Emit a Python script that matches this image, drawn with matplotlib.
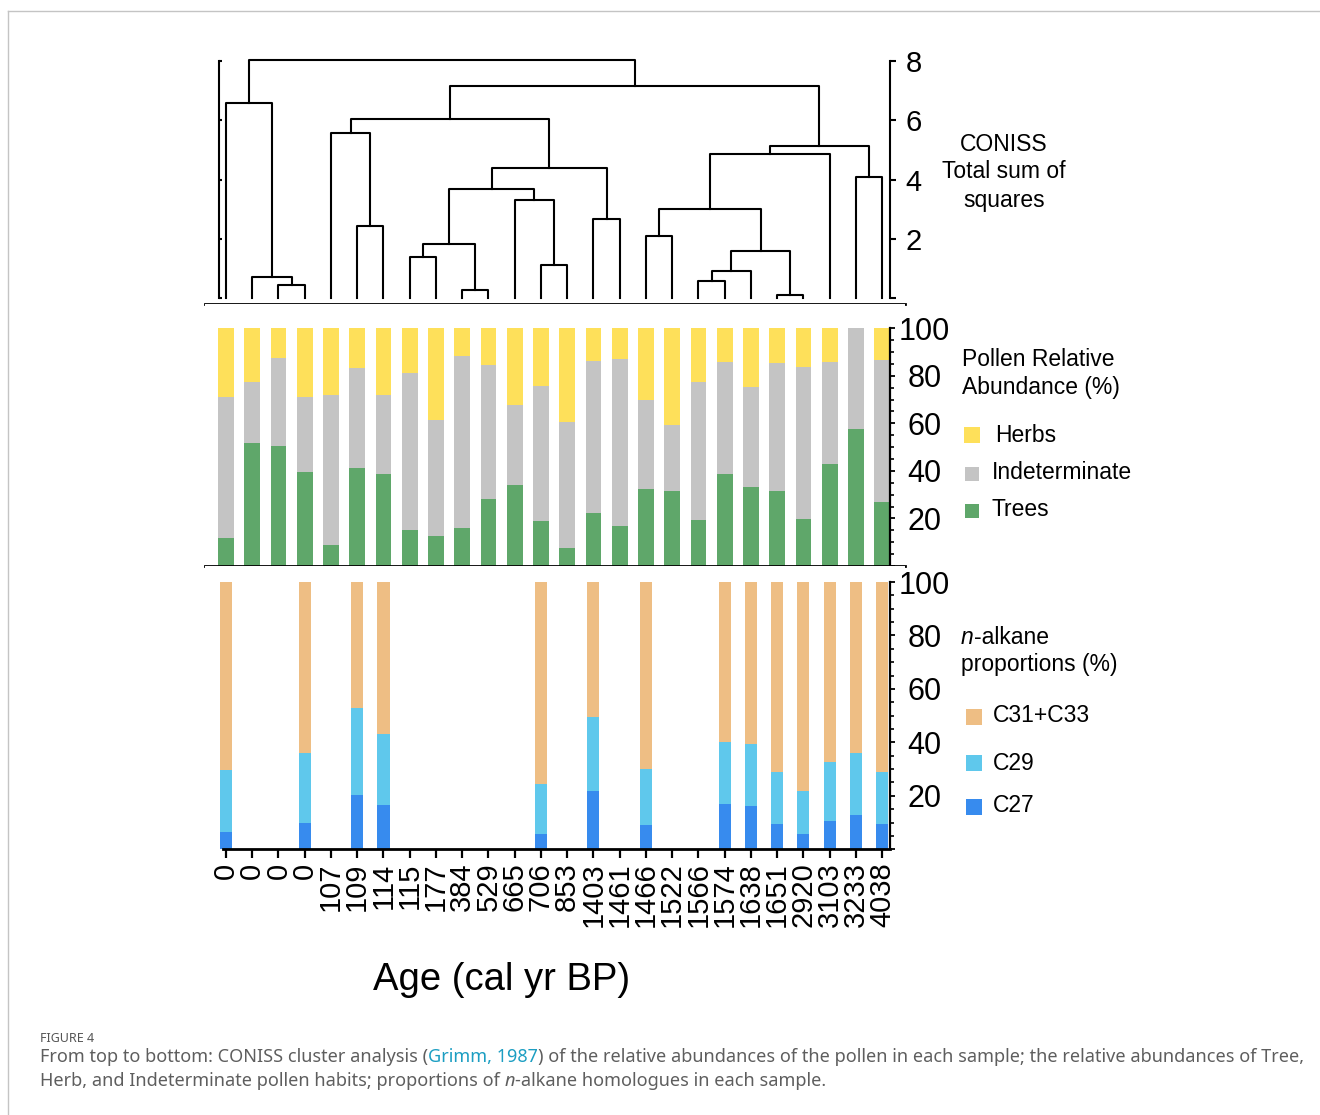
import numpy as np
import matplotlib
matplotlib.use("Agg")
import matplotlib.pyplot as plt
from matplotlib.patches import Rectangle
from matplotlib.lines import Line2D
from matplotlib.ticker import FixedLocator

plt.rcParams['font.family'] = ['Liberation Sans', 'DejaVu Sans']

# --- data ---
ages = ['0', '0', '0', '0', '107', '109', '114', '115', '177', '384', '529',
        '665', '706', '853', '1403', '1461', '1466', '1522', '1566', '1574',
        '1638', '1651', '2920', '3103', '3233', '4038']

# pollen habit (%)
trees = [11.6, 51.8, 50.3, 39.6, 8.7, 41.3, 38.9, 15.1, 12.6, 15.8, 28.2, 33.9, 19.0,
         7.6, 22.4, 16.8, 32.2, 31.5, 19.3, 38.8, 33.2, 31.5, 19.9, 42.9, 57.7, 26.9]
indeterminate = [59.4, 25.8, 37.2, 31.4, 63.1, 42.0, 32.9, 66.0, 48.7, 72.7, 56.3, 33.9, 56.9,
                 53.0, 63.9, 70.3, 37.8, 27.7, 58.1, 46.8, 42.0, 53.8, 63.8, 43.1, 42.3, 59.9]
herbs = [29.0, 22.4, 12.5, 29.0, 28.2, 16.7, 28.2, 18.9, 38.7, 11.5, 15.5, 32.2, 24.1,
         39.4, 13.7, 12.9, 30.0, 40.8, 22.6, 14.4, 24.8, 14.7, 16.3, 14.0, 0.0, 13.2]

# n-alkane proportions (%), nan = not measured
nan = np.nan
c27 = [6.6, nan, nan, 9.8, nan, 20.3, 16.6, nan, nan, nan, nan, nan, 5.8,
       nan, 21.8, nan, 9.1, nan, nan, 16.9, 16.2, 9.3, 5.8, 10.6, 12.8, 9.5]
c29 = [23.0, nan, nan, 26.4, nan, 32.4, 26.6, nan, nan, nan, nan, nan, 18.6,
       nan, 27.8, nan, 20.8, nan, nan, 23.2, 23.1, 19.7, 16.2, 22.1, 23.4, 19.6]
c31_33 = [70.4, nan, nan, 63.8, nan, 47.3, 56.8, nan, nan, nan, nan, nan, 75.6,
          nan, 50.4, nan, 70.1, nan, nan, 59.9, 60.7, 71.0, 78.0, 67.3, 63.8, 70.9]

# CONISS merges: (child a, child b, total sum of squares); ids >= 26 are earlier merges
merges = [
    (21, 22, 0.11), (9, 10, 0.27), (2, 3, 0.45), (18, 19, 0.59), (1, 28, 0.72),
    (29, 20, 0.93), (12, 13, 1.11), (7, 8, 1.38), (31, 26, 1.58), (33, 27, 1.83),
    (16, 17, 2.09), (5, 6, 2.42), (14, 15, 2.68), (36, 34, 3.01), (11, 32, 3.32),
    (35, 40, 3.67), (24, 25, 4.10), (41, 38, 4.40), (39, 23, 4.86), (44, 42, 5.13),
    (4, 37, 5.58), (46, 43, 6.04), (0, 30, 6.58), (47, 45, 7.16), (48, 49, 8.03),
]

# colours
col_herbs, col_indet, col_trees = '#FEE05A', '#C4C4C4', '#5FA76A'
col_c31, col_c29, col_c27 = '#EEBE84', '#5FC8EC', '#378BEE'

W, H = 1320, 1115
fig = plt.figure(figsize=(W / 100, H / 100), dpi=100)


def fig_rect(x0, y0, x1, y1):
    return [x0 / W, 1 - y1 / H, (x1 - x0) / W, (y1 - y0) / H]


X0, X1 = -0.8, 25.87
SPINE_X = 25.3
LW = 2.0
x = np.arange(len(ages))

# ---------- dendrogram ----------
ax_d = fig.add_axes(fig_rect(205, 45, 905, 304))
ax_d.set_xlim(X0, X1)
ax_d.set_ylim(-0.192, 8.53)

pos = {i: float(i) for i in range(len(ages))}
hgt = {i: 0.0 for i in range(len(ages))}
for k, (a, b, h) in enumerate(merges):
    ax_d.plot([pos[a], pos[a], pos[b], pos[b]], [hgt[a], h, h, hgt[b]],
              color='black', lw=1.5)
    node = len(ages) + k
    pos[node] = (pos[a] + pos[b]) / 2
    hgt[node] = h

for s in ['top', 'right']:
    ax_d.spines[s].set_visible(False)
ax_d.spines['bottom'].set_linewidth(LW)
ax_d.spines['left'].set_position(('data', -0.255))
ax_d.spines['left'].set_bounds(0, 8)
ax_d.spines['left'].set_linewidth(1.5)
ax_d.set_xticks([])
ax_d.set_yticks([0, 2, 4, 6, 8])
ax_d.tick_params(axis='y', direction='in', length=2.5, width=1.5, labelleft=False)

ax_t = ax_d.twinx()
ax_t.set_ylim(ax_d.get_ylim())
for s in ['top', 'bottom', 'left']:
    ax_t.spines[s].set_visible(False)
ax_t.spines['right'].set_position(('data', SPINE_X))
ax_t.spines['right'].set_bounds(0, 8)
ax_t.spines['right'].set_linewidth(1.5)
ax_t.set_yticks([0, 2, 4, 6, 8])
ax_t.set_yticklabels(['', '2', '4', '6', '8'])
ax_t.tick_params(axis='y', direction='out', length=4.3, width=1.5, labelsize=21, pad=7)

# ---------- pollen ----------
ax_p = fig.add_axes(fig_rect(205, 304, 905, 566))
ax_p.set_xlim(X0, X1)
ax_p.set_ylim(0, 110.2)
ax_p.bar(x, trees, width=0.6, color=col_trees, edgecolor='none')
ax_p.bar(x, indeterminate, width=0.6, bottom=trees, color=col_indet, edgecolor='none')
ax_p.bar(x, herbs, width=0.6, bottom=np.add(trees, indeterminate), color=col_herbs,
         edgecolor='none')

# ---------- n-alkanes ----------
ax_a = fig.add_axes(fig_rect(205, 566, 905, 849.3))
ax_a.set_xlim(X0, X1)
ax_a.set_ylim(0, 106.0)
c27a, c29a, c31a = np.array(c27), np.array(c29), np.array(c31_33)
m = ~np.isnan(c27a)
ax_a.bar(x[m], c27a[m], width=0.46, color=col_c27, edgecolor='none')
ax_a.bar(x[m], c29a[m], width=0.46, bottom=c27a[m], color=col_c29, edgecolor='none')
ax_a.bar(x[m], c31a[m], width=0.46, bottom=c27a[m] + c29a[m], color=col_c31,
         edgecolor='none')

for ax in (ax_p, ax_a):
    ax.spines['top'].set_visible(False)
    ax.spines['left'].set_visible(False)
    ax.spines['bottom'].set_linewidth(LW)
    ax.spines['right'].set_position(('data', SPINE_X))
    ax.spines['right'].set_bounds(0, 100)
    ax.spines['right'].set_linewidth(1.6)
    ax.yaxis.set_ticks_position('right')
    ax.yaxis.set_major_locator(FixedLocator([0, 20, 40, 60, 80, 100]))
    ax.yaxis.set_minor_locator(FixedLocator([v for v in range(5, 100, 5) if v % 20]))
    ax.set_yticklabels(['', '20', '40', '60', '80', '100'])
    ax.tick_params(axis='y', which='major', direction='out', length=3.8, width=1.3,
                   labelsize=22, pad=21)
    ax.tick_params(axis='y', which='minor', direction='out', length=3.2, width=1.2)
    for lbl in ax.get_yticklabels():
        lbl.set_horizontalalignment('center')

ax_p.set_xticks([])
ax_a.spines['bottom'].set_bounds(-0.12, SPINE_X)
ax_a.set_xticks(x)
ax_a.set_xticklabels(ages, rotation=90, fontsize=21)
ax_a.tick_params(axis='x', direction='out', length=6.5, width=1.6, pad=3)

fig.text(502 / W, 1 - 980 / H, 'Age (cal yr BP)', fontsize=27.5, ha='center', va='center')

# ---------- side labels / legends ----------
def px_text(xp, yp, s, **kw):
    return fig.text(xp / W, 1 - yp / H, s, **kw)


def square(x0, y0, size, color):
    fig.add_artist(Rectangle((x0 / W, 1 - (y0 + size) / H), size / W, size / H,
                             transform=fig.transFigure, facecolor=color, edgecolor='none'))


for yy, s in [(145, 'CONISS'), (172, 'Total sum of'), (201, 'squares')]:
    px_text(1004, yy, s, fontsize=16.5, ha='center', va='center')

px_text(962, 360, 'Pollen Relative', fontsize=16.5, va='center')
px_text(962, 387, 'Abundance (%)', fontsize=16.5, va='center')
square(964, 427, 16, col_herbs)
px_text(995, 435, 'Herbs', fontsize=16.5, va='center')
square(965, 467, 14, col_indet)
px_text(992, 473, 'Indeterminate', fontsize=16.5, va='center')
square(965, 504, 14, col_trees)
px_text(992, 510, 'Trees', fontsize=16.5, va='center')

renderer = fig.canvas.get_renderer()


def chain(pieces, xp, yp, **common):
    for s, kw in pieces:
        if s == ' ':
            a = fig.text(0, 0, 'a a', **common)
            b = fig.text(0, 0, 'aa', **common)
            xp += a.get_window_extent(renderer).width - b.get_window_extent(renderer).width
            a.remove()
            b.remove()
            continue
        t = fig.text(xp / W, 1 - yp / H, s, ha='left', va='center', **{**common, **kw})
        xp += t.get_window_extent(renderer).width
    return xp


chain([('n', {'style': 'italic'}), ('-alkane', {})], 961, 637, fontsize=16.5)
px_text(961, 665, 'proportions (%)', fontsize=16.5, va='center')
square(966, 709, 16, col_c31)
px_text(993, 716, 'C31+C33', fontsize=16.5, va='center')
square(966, 755, 16, col_c29)
px_text(993, 763, 'C29', fontsize=16.5, va='center')
square(966, 799, 16, col_c27)
px_text(993, 806, 'C27', fontsize=16.5, va='center')

# ---------- frame and caption ----------
frame = '#C4C4C4'
fig.add_artist(Line2D([8 / W, 1], [1 - 11 / H] * 2, color=frame, lw=1.0,
                      transform=fig.transFigure))
fig.add_artist(Line2D([8 / W] * 2, [1 - 11 / H, 0], color=frame, lw=1.0,
                      transform=fig.transFigure))

cap_font = ['Noto Sans', 'DejaVu Sans']
cap_col = '#5E5E5E'
line1 = [('From top to bottom: CONISS cluster analysis (', {}),
         ('Grimm, 1987', {'color': '#1C9EC2'}),
         (') of the relative abundances of the pollen in each sample; the relative '
          'abundances of Tree,', {})]
probe = fig.text(0, 0, ''.join(p[0] for p in line1), fontsize=11, family=cap_font)
cap_size = 11 * 1263 / probe.get_window_extent(renderer).width
probe.remove()

px_text(40, 1038, 'FIGURE 4', fontsize=9, color='#555555', va='center', family=cap_font)
chain(line1, 40, 1057, fontsize=cap_size, family=cap_font, color=cap_col)
chain([('Herb, and Indeterminate pollen habits; proportions of', {}), (' ', {}),
       ('n', {'style': 'italic'}), ('-alkane homologues in each sample.', {})],
      40, 1081, fontsize=cap_size, family=cap_font, color=cap_col)

fig.savefig('out.png', dpi=100)
